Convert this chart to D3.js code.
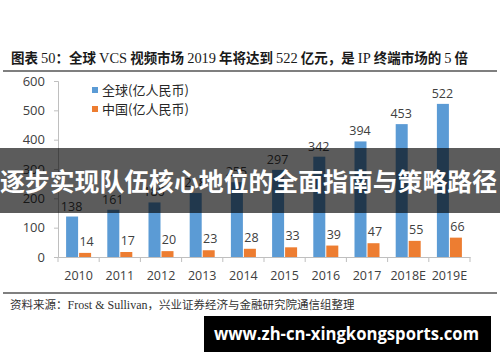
<!DOCTYPE html>
<html>
<head>
<meta charset="utf-8">
<script src="https://cdn.jsdelivr.net/npm/d3@7"></script>
<style>
  body { margin: 0; background: #fff; }
  svg { display: block; }
</style>
</head>
<body>
<div id="chart"></div>
<script>
const years = ["2010", "2011", "2012", "2013", "2014", "2015", "2016", "2017", "2018E", "2019E"]
const globalValues = [138, 161, 186, 218, 255, 297, 342, 394, 453, 522]
const chinaValues = [14, 17, 20, 23, 28, 33, 39, 47, 55, 66]
const yTicks = [0, 100, 200, 300, 400, 500, 600]
const seriesNames = ["全球(亿人民币)", "中国(亿人民币)"]

const width = 500
const height = 362
const blue = "#5b9bd5"
const orange = "#ed7d31"
const cjk = "'Noto Sans CJK SC', 'Noto Sans', sans-serif"
const serif = "'Liberation Serif', 'DejaVu Serif', serif"

const svg = d3.select("#chart")
  .append("svg")
  .attr("width", width)
  .attr("height", height)

// title
const title = svg.append("text")
  .attr("x", 11)
  .attr("y", 63)
  .attr("font-size", 14)
  .attr("fill", "#1a1a1a")
  .attr("textLength", 457)
  .attr("lengthAdjust", "spacingAndGlyphs")
const parts = [
  ["图表 ", true], ["50", false], ["：全球 ", true], ["VCS", false], [" 视频市场 ", true],
  ["2019", false], [" 年将达到 ", true], ["522", false], [" 亿元，是 ", true], ["IP", false],
  [" 终端市场的 ", true], ["5", false], [" 倍", true]
]
parts.forEach(p => {
  title.append("tspan")
    .attr("font-family", p[1] ? cjk : serif)
    .attr("font-weight", p[1] ? "bold" : "normal")
    .attr("font-size", p[1] ? 14 : 15)
    .text(p[0])
})

svg.append("line")
  .attr("x1", 3).attr("x2", 497)
  .attr("y1", 71).attr("y2", 71)
  .attr("stroke", "#555").attr("stroke-width", 1.5)

const margin = { left: 58, right: 30, top: 81, bottom: 105 }

const x = d3.scaleBand()
  .domain(years)
  .range([margin.left, width - margin.right])

const y = d3.scaleLinear()
  .domain([0, 600])
  .range([height - margin.bottom, margin.top])

const barW = 12

// y axis
const yAxis = svg.append("g")
  .attr("transform", `translate(${margin.left},0)`)
  .call(d3.axisLeft(y).tickValues(yTicks).tickSize(4).tickPadding(9))
yAxis.select(".domain").attr("stroke", "#bfbfbf")
yAxis.selectAll(".tick line").attr("stroke", "#bfbfbf")
yAxis.selectAll(".tick text")
  .attr("font-family", "'Open Sans', 'DejaVu Sans', sans-serif")
  .attr("font-size", 13)
  .attr("fill", "#404040")

// x axis
const xAxis = svg.append("g")
  .attr("transform", `translate(0,${y(0)})`)
  .call(d3.axisBottom(x).tickSize(0).tickPadding(14))
xAxis.select(".domain").attr("stroke", "#bfbfbf")
xAxis.selectAll(".tick text")
  .attr("font-family", "'Open Sans', 'DejaVu Sans', sans-serif")
  .attr("font-size", 12.5)
  .attr("fill", "#404040")
// boundary ticks
const bounds = years.map(d => x(d)).concat([x(years[years.length - 1]) + x.bandwidth()])
xAxis.selectAll(".bound")
  .data(bounds)
  .enter()
  .append("line")
  .attr("x1", d => d).attr("x2", d => d)
  .attr("y1", 0).attr("y2", 5)
  .attr("stroke", "#bfbfbf")

const mid = d => x(d) + x.bandwidth() / 2

// bars
svg.selectAll(".gbar")
  .data(years)
  .enter()
  .append("rect")
  .attr("x", d => mid(d) - barW - 0.5)
  .attr("y", (d, i) => y(globalValues[i]))
  .attr("width", barW)
  .attr("height", (d, i) => y(0) - y(globalValues[i]))
  .attr("fill", blue)

svg.selectAll(".cbar")
  .data(years)
  .enter()
  .append("rect")
  .attr("x", d => mid(d) + 0.5)
  .attr("y", (d, i) => y(chinaValues[i]))
  .attr("width", barW)
  .attr("height", (d, i) => y(0) - y(chinaValues[i]))
  .attr("fill", orange)

const labelFont = "'Open Sans', 'DejaVu Sans', sans-serif"
svg.selectAll(".glabel")
  .data(years)
  .enter()
  .append("text")
  .attr("x", d => mid(d) - barW / 2 - 1)
  .attr("y", (d, i) => y(globalValues[i]) - 6)
  .attr("text-anchor", "middle")
  .attr("font-family", labelFont)
  .attr("font-size", 12.5)
  .attr("fill", "#404040")
  .text((d, i) => globalValues[i])

svg.selectAll(".clabel")
  .data(years)
  .enter()
  .append("text")
  .attr("x", d => mid(d) + barW / 2 + 2)
  .attr("y", (d, i) => y(chinaValues[i]) - 7)
  .attr("text-anchor", "middle")
  .attr("font-family", labelFont)
  .attr("font-size", 12.5)
  .attr("fill", "#404040")
  .text((d, i) => chinaValues[i])

// legend
const legend = svg.append("g").attr("transform", "translate(92,86)")
seriesNames.forEach((name, i) => {
  legend.append("rect")
    .attr("x", 0).attr("y", i * 19 + 1)
    .attr("width", 6).attr("height", 6)
    .attr("fill", i === 0 ? blue : orange)
  legend.append("text")
    .attr("x", 10).attr("y", i * 19 + 9)
    .attr("font-family", cjk)
    .attr("font-size", 13)
    .attr("fill", "#262626")
    .text(name)
})

// bottom rule + source
svg.append("line")
  .attr("x1", 3).attr("x2", 497)
  .attr("y1", 293).attr("y2", 293)
  .attr("stroke", "#555").attr("stroke-width", 1.5)

const src = svg.append("text")
  .attr("x", 10).attr("y", 309)
  .attr("font-size", 11.5)
  .attr("fill", "#333")
src.append("tspan").attr("font-family", cjk).text("资料来源：")
src.append("tspan").attr("font-family", serif).attr("font-size", 12).text("Frost & Sullivan")
src.append("tspan").attr("font-family", cjk).text("，兴业证券经济与金融研究院通信组整理")

// overlay band
svg.append("rect")
  .attr("x", 0).attr("y", 148)
  .attr("width", width).attr("height", 65)
  .attr("fill", "rgba(0,0,0,0.64)")
svg.append("text")
  .attr("x", 0).attr("y", 191)
  .attr("font-family", cjk)
  .attr("font-weight", "bold")
  .attr("font-size", 25)
  .attr("fill", "#fff")
  .attr("textLength", 497)
  .attr("lengthAdjust", "spacingAndGlyphs")
  .text("逐步实现队伍核心地位的全面指南与策略路径")

// watermark box
svg.append("rect")
  .attr("x", 204).attr("y", 316)
  .attr("width", 287).attr("height", 36)
  .attr("fill", "#000")
svg.append("text")
  .attr("x", 214).attr("y", 340)
  .attr("font-family", "'Open Sans', 'DejaVu Sans', sans-serif")
  .attr("font-weight", "bold")
  .attr("font-size", 17)
  .attr("fill", "#fff")
  .attr("textLength", 265)
  .attr("lengthAdjust", "spacingAndGlyphs")
  .text("www.zh-cn-xingkongsports.com")
</script>
</body>
</html>
